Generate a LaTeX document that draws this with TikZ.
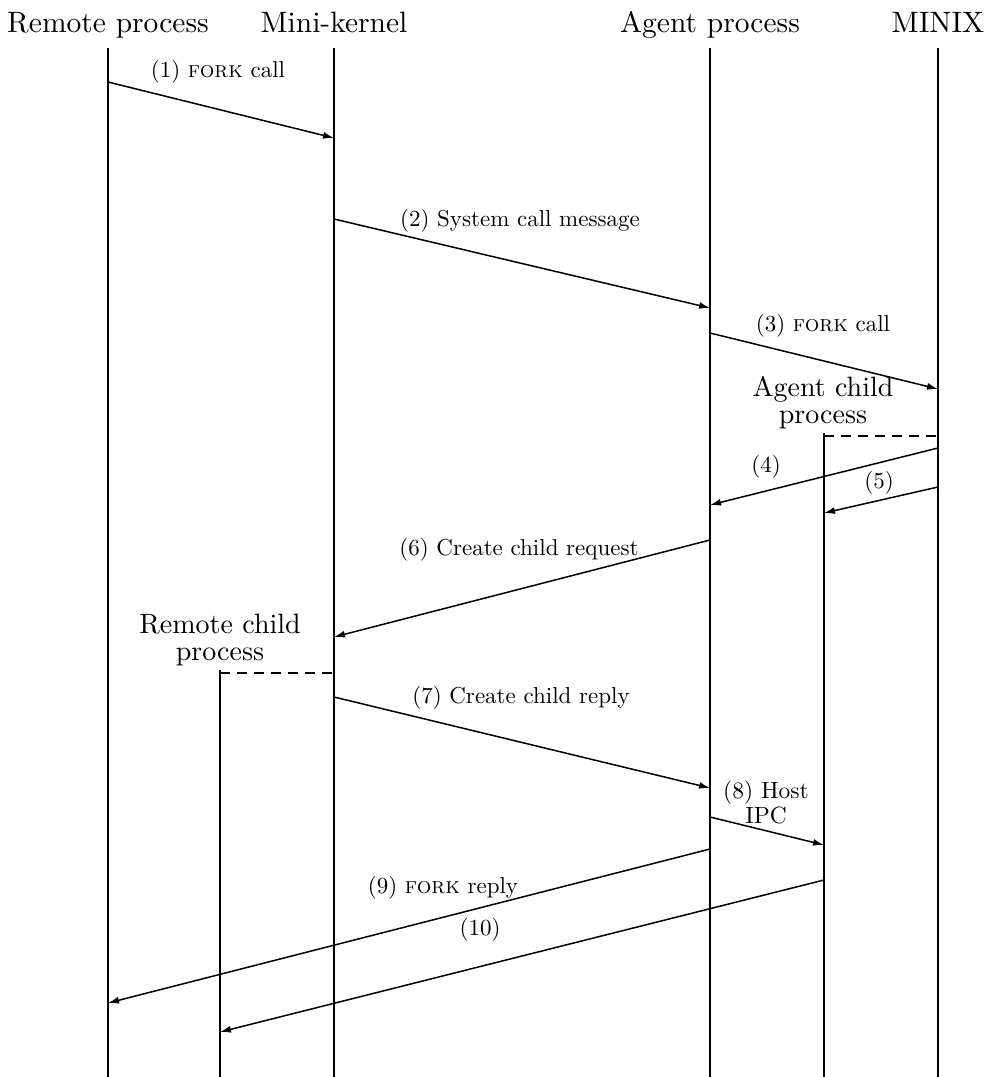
\documentclass[tikz,border=0pt]{standalone}
\usetikzlibrary{arrows.meta}
\newcommand\hdrtxt[1]{\scalebox{2.95}{#1}}
\newcommand\lbltxt[1]{\scalebox{2.3}{#1}}
\newcommand\chtxt[2]{\scalebox{2.8}{\begin{tabular}[b]{@{}c@{}}#1\\[-2.6pt]#2\end{tabular}}}
\newcommand\lbltwo[2]{\scalebox{2.35}{\begin{tabular}[b]{@{}c@{}}#1\\[-1.5pt]#2\end{tabular}}}
\newcommand\fk{\textsc{fork}}
\begin{document}
\begin{tikzpicture}[x=1pt,y=-1pt,
  life/.style={line width=1.3pt},
  msg/.style={line width=1.5pt,-{Latex[length=11pt,width=7pt]}},
  dsh/.style={line width=1.3pt,dash pattern=on 10pt off 7pt},
  txt/.style={anchor=base,inner sep=0pt}]
\useasboundingbox (0,0) rectangle (987,1077);
% headers
\node[txt] (hrp) at (108,32) {\hdrtxt{Remote process}};
\node[txt] (hmk) at (334,32) {\hdrtxt{Mini-kernel}};
\node[txt] (hap) at (710,32) {\hdrtxt{Agent process}};
\node[txt] (hmx) at (938,32) {\hdrtxt{MINIX}};
% lifelines
\coordinate (rpt) at (108,48); \coordinate (rpb) at (108,1077);
\coordinate (mkt) at (334,48); \coordinate (mkb) at (334,1077);
\coordinate (apt) at (710,48); \coordinate (apb) at (710,1077);
\coordinate (mxt) at (938,48); \coordinate (mxb) at (938,1077);
\coordinate (act) at (824,433); \coordinate (acb) at (824,1077);
\coordinate (rct) at (220,670); \coordinate (rcb) at (220,1077);
\draw[life] (rpt) -- (rpb);
\draw[life] (mkt) -- (mkb);
\draw[life] (apt) -- (apb);
\draw[life] (mxt) -- (mxb);
\draw[life] (act) -- (acb);
\draw[life] (rct) -- (rcb);
% child labels and dashed links
\node[txt] (lac) at (823,423) {\chtxt{Agent child}{process}};
\coordinate (acd) at (824,436); \coordinate (mxd) at (938,436);
\draw[dsh] (acd) -- (mxd);
\node[txt] (lrc) at (220,660) {\chtxt{Remote child}{process}};
\coordinate (rcd) at (220,673); \coordinate (mkd) at (334,673);
\draw[dsh] (rcd) -- (mkd);
% message endpoints
\coordinate (m1s) at (108,82);  \coordinate (m1e) at (334,138);
\coordinate (m2s) at (334,219); \coordinate (m2e) at (710,308);
\coordinate (m3s) at (710,333); \coordinate (m3e) at (938,389);
\coordinate (m4s) at (938,448); \coordinate (m4e) at (710,505);
\coordinate (m5s) at (938,487); \coordinate (m5e) at (824,513);
\coordinate (m6s) at (710,540); \coordinate (m6e) at (334,637);
\coordinate (m7s) at (334,697); \coordinate (m7e) at (710,788);
\coordinate (m8s) at (710,817); \coordinate (m8e) at (824,845);
\coordinate (m9s) at (710,849); \coordinate (m9e) at (108,1003);
\coordinate (m10s) at (824,880); \coordinate (m10e) at (220,1032);
\draw[msg] (m1s) -- (m1e);
\draw[msg] (m2s) -- (m2e);
\draw[msg] (m3s) -- (m3e);
\draw[msg] (m4s) -- (m4e);
\draw[msg] (m5s) -- (m5e);
\draw[msg] (m6s) -- (m6e);
\draw[msg] (m7s) -- (m7e);
\draw[msg] (m8s) -- (m8e);
\draw[msg] (m9s) -- (m9e);
\draw[msg] (m10s) -- (m10e);
% message labels
\node[txt] (l1) at (218,77) {\lbltxt{(1) \fk\ call}};
\node[txt] (l2) at (520,226) {\lbltxt{(2) System call message}};
\node[txt] (l3) at (823,331) {\lbltxt{(3) \fk\ call}};
\node[txt] (l4) at (766,472) {\lbltxt{(4)}};
\node[txt] (l5) at (879,488) {\lbltxt{(5)}};
\node[txt] (l6) at (519,555) {\lbltxt{(6) Create child request}};
\node[txt] (l7) at (521,703) {\lbltxt{(7) Create child reply}};
\node[txt] (l8) at (766,823) {\lbltwo{(8) Host}{IPC}};
\node[txt] (l9) at (443,893) {\lbltxt{(9) \fk\ reply}};
\node[txt] (l10) at (480,935) {\lbltxt{(10)}};
\end{tikzpicture}
\end{document}
